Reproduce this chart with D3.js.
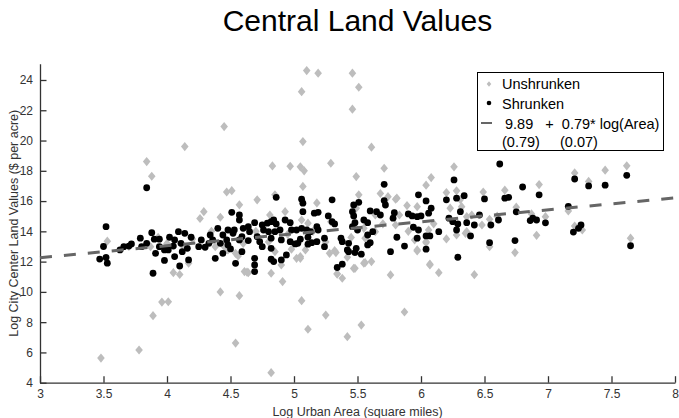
<!DOCTYPE html>
<html>
<head>
<meta charset="utf-8">
<script src="https://cdn.jsdelivr.net/npm/d3@7"></script>
<style>
  html, body { margin: 0; padding: 0; background: #fff; }
  svg { display: block; font-family: "Liberation Sans", Arial, Helvetica, sans-serif; }
</style>
</head>
<body>
<svg id="chart" width="679" height="418"></svg>
<script>
// Log urban area (x) vs log city-center land value (y), per city.
const unshrunken = [
  [3.48,5.63],[3.78,6.16],[3.89,8.43],[3.96,9.33],[4.01,9.35],[4.05,11.27],[4.10,11.15],[4.17,11.9],
  [4.42,10.0],[4.54,6.62],[4.57,9.75],[5.06,9.42],[4.82,4.66],[5.11,7.53],[5.25,8.47],[5.42,7.04],
  [5.53,7.81],[5.87,8.67],[5.76,11.12],[6.07,11.83],[6.14,11.27],[4.91,10.68],[4.82,11.23],[4.63,11.3],
  [4.61,11.34],[5.05,12.22],[5.38,10.9],[5.34,11.2],[5.47,11.55],[5.55,11.9],[5.61,12.0],[5.33,12.6],
  [5.97,12.7],[6.04,13.25],[6.42,11.14],[6.74,12.6],[6.91,13.74],[6.54,12.99],[7.65,13.55],
  [5.10,24.62],[5.19,24.45],[5.06,23.23],[5.46,24.45],[5.51,23.52],[5.46,22.07],[5.07,19.93],[5.61,19.56],
  [4.83,18.32],[4.97,18.3],[5.05,18.26],[5.08,18.0],[5.29,18.5],[5.71,18.17],[6.26,18.26],[5.49,17.62],
  [6.08,17.55],[6.04,17.05],[5.07,16.97],[4.51,16.69],[4.47,16.6],[4.85,16.41],[4.71,16.08],[5.51,16.41],
  [5.68,16.5],[5.74,16.29],[5.80,16.12],[5.18,15.88],[4.57,15.75],[6.20,16.56],[6.28,16.68],[3.84,18.61],
  [3.88,17.64],[4.14,19.6],[4.45,20.92],[4.29,15.3],[4.26,14.85],[4.42,14.93],[3.53,13.35],[7.21,17.86],
  [7.45,18.04],[7.62,18.33],[7.32,17.3],[6.93,17.09],[6.66,16.72],[6.49,16.6],[7.16,15.35],[6.75,15.6],
  [6.87,15.15],[6.98,14.97],[7.21,14.35],[7.27,14.09],[6.48,14.42],[6.36,13.98],
  [5.81,16.19],[5.89,15.7],[5.83,15.08],[5.95,13.43],[5.97,12.77],[6.04,13.32],[6.06,14.09],[6.07,11.78],
  [6.28,13.76],[6.35,13.87],[6.23,15.53],[6.32,15.63],[6.40,15.08],[6.54,14.8],[5.06,14.75],[5.11,14.54],
  [5.29,14.64],[5.49,15.53],[5.64,15.08],[5.80,14.42],[5.05,12.33],[5.32,12.72],[5.42,12.29],[5.48,11.56],
  [5.56,11.93],[5.34,11.18],[5.28,12.55],[5.56,13.55],[5.64,13.98],[5.09,12.77],[4.93,15.3],[4.81,15.08],
  [4.54,12.55],[4.56,12.37],[4.64,11.27],[4.85,12.66],[4.90,11.78],[4.48,12.77],[5.02,12.22],[4.38,12.99],
  [4.71,13.7],[4.98,12.82],[3.87,12.99],[5.97,15.63],[6.31,16.1],[6.36,14.97],
  [4.0,13.2],[4.2,13.5],[4.35,14.0],[4.6,13.2],[4.7,14.0],[4.8,13.3],[4.95,13.8],[5.15,14.0],
  [5.25,13.3],[5.45,13.6],[5.55,14.2],[5.7,14.5],[5.9,14.0],[6.1,14.5],[6.2,13.5],[6.6,15.0],
  [3.7,13.0],[3.93,13.6],[4.12,13.1],[4.45,13.0]
];

const shrunken = [
  [3.52,14.31],[3.84,16.88],[3.50,13.0],[3.47,12.17],[3.52,12.28],[3.53,11.9],
  [3.63,12.77],[3.66,12.99],[3.70,13.03],[3.72,13.17],[3.79,13.55],[3.80,12.99],[3.84,13.21],[3.88,13.91],
  [3.90,13.48],[3.91,12.55],[3.89,11.23],[3.94,13.48],[3.98,12.77],[4.02,13.61],[4.01,12.77],[4.06,12.33],
  [4.09,13.98],[4.11,13.21],[4.14,13.87],[4.12,12.66],[4.16,12.88],[4.19,13.61],[4.10,11.71],[4.17,12.11],
  [3.98,12.08],[4.05,13.03],[4.06,13.43],[3.94,12.99],
  [4.51,15.26],[4.57,15.08],[4.57,14.75],[4.86,16.25],
  [4.40,14.2],[4.48,14.09],[4.53,14.09],[4.60,14.2],[4.64,14.31],[4.69,14.57],[4.75,14.42],[4.79,14.54],
  [4.82,14.64],[4.84,14.75],[4.86,14.49],[4.93,14.75],[4.97,14.57],
  [4.27,13.43],[4.34,13.76],[4.36,13.43],[4.44,13.76],[4.47,13.43],[4.52,13.87],[4.59,13.65],[4.65,13.98],
  [4.71,13.65],[4.76,14.09],[4.80,13.98],[4.85,13.98],[4.89,14.09],[4.98,14.09],[5.02,14.09],
  [4.25,12.99],[4.30,12.95],[4.33,13.21],[4.42,13.21],[4.48,13.10],[4.50,12.84],[4.57,13.43],[4.64,13.39],
  [4.73,13.32],[4.82,13.55],[4.90,13.43],[4.97,13.32],[5.01,13.17],
  [4.38,12.22],[4.44,12.55],[4.54,11.89],[4.82,12.88],[4.82,12.16],[4.84,12.0],[4.90,12.11],[4.69,12.22],
  [4.69,11.78],[4.69,11.34],[4.94,12.44],[4.59,12.66],[4.75,12.99],
  [5.06,16.12],[5.07,15.86],[5.07,15.30],[5.30,16.08],[5.47,15.74],[5.51,15.92],[5.71,16.03],[5.72,15.74],
  [5.71,17.11],[5.16,15.2],[5.19,15.26],[5.27,15.02],[5.30,14.64],[5.32,14.49],[5.60,15.35],[5.65,15.3],
  [5.68,15.08],[5.79,15.23],[5.78,14.87],[5.46,15.3],[5.47,15.02],[5.48,14.57],[5.55,14.75],[5.58,14.57],
  [5.46,14.31],[5.50,14.09],
  [5.06,14.2],[5.10,14.09],[5.13,13.98],[5.18,14.31],[5.19,14.09],[5.24,13.55],[5.05,13.48],[5.11,13.61],
  [5.14,13.25],[5.18,13.32],[5.03,13.21],[5.11,13.15],[5.24,12.99],
  [5.37,13.55],[5.38,13.32],[5.43,13.21],[5.42,12.77],[5.43,12.66],[5.49,12.88],[5.48,12.6],[5.53,12.49],
  [5.58,13.1],[5.60,13.25],[5.58,13.76],[5.62,13.98],[5.38,11.83],[5.34,11.61],[5.76,12.66],[5.81,13.61],
  [6.26,17.4],[5.98,16.41],[6.04,16.01],[6.20,16.08],[6.28,16.19],[6.34,16.36],[6.50,16.14],[6.31,15.3],
  [5.90,15.15],[5.93,15.02],[5.97,14.97],[6.00,15.02],[6.06,15.2],[6.08,15.53],
  [5.94,14.27],[5.98,14.09],[6.04,13.7],[6.07,13.7],[5.97,13.55],[5.87,13.03],[6.04,12.82],[6.14,13.98],
  [6.22,14.87],[6.25,14.64],[6.29,14.49],[6.28,14.09],[6.36,14.57],[6.42,14.42],[6.46,15.08],[6.55,14.42],
  [6.39,13.7],[6.54,13.25],[6.29,12.29],[6.61,14.75],
  [6.62,18.45],[7.21,17.46],[7.45,17.05],[7.62,17.7],[7.32,17.0],[6.93,16.41],[6.80,16.93],[6.66,16.19],
  [6.69,16.25],[7.16,15.65],[6.75,15.29],[6.86,14.71],[6.88,14.87],[6.91,14.75],[6.98,14.56],[7.20,13.95],
  [7.26,14.42],[7.24,14.2],[6.74,13.39],[7.65,13.05]
];

// Fitted line: value = intercept + slope * log(Area), standard errors in parentheses
const fitIntercept = 9.89, fitSlope = 0.79;
const fitInterceptSE = 0.79, fitSlopeSE = 0.07;
const xTicks = [3, 3.5, 4, 4.5, 5, 5.5, 6, 6.5, 7, 7.5, 8];
const yTicks = [4, 6, 8, 10, 12, 14, 16, 18, 20, 22, 24];
const legendLabels = ["Unshrunken", "Shrunken"];

const svg = d3.select("#chart");
const axisColor = "#333333";

const x = d3.scaleLinear().domain([3, 8]).range([40, 675]);
const y = d3.scaleLinear().domain([4, 25.07]).range([382.7, 63.8]);

// Title
svg.append("text")
  .attr("x", 357.5).attr("y", 31)
  .attr("text-anchor", "middle")
  .attr("font-size", 30)
  .attr("fill", "#000")
  .text("Central Land Values");

// Axes (ticks point inward)
const xAxis = d3.axisBottom(x).tickValues(xTicks).tickSizeInner(-6.5).tickSizeOuter(0)
  .tickFormat(d3.format("~g")).tickPadding(7);
const yAxis = d3.axisLeft(y).tickValues(yTicks).tickSizeInner(-6.5).tickSizeOuter(0)
  .tickFormat(d3.format("~g")).tickPadding(7);

const gx = svg.append("g").attr("transform", `translate(0,${y(4)})`).call(xAxis);
const gy = svg.append("g").attr("transform", `translate(${x(3)},0)`).call(yAxis);
[gx, gy].forEach(g => {
  g.select(".domain").attr("stroke", axisColor).attr("stroke-width", 1.3);
  g.selectAll(".tick line").attr("stroke", axisColor).attr("stroke-width", 1.3);
  g.selectAll(".tick text").attr("fill", axisColor).attr("font-size", 12)
    .attr("font-family", "'Liberation Sans', Arial, sans-serif");
});

// Axis labels
svg.append("text")
  .attr("x", 357.5).attr("y", 416)
  .attr("text-anchor", "middle")
  .attr("font-size", 12.5).attr("fill", axisColor)
  .text("Log Urban Area (square miles)");
svg.append("text")
  .attr("transform", `translate(18,${(y(4) + y(25.07)) / 2}) rotate(-90)`)
  .attr("text-anchor", "middle")
  .attr("font-size", 12.5).attr("fill", axisColor)
  .text("Log City Center Land Values ($ per acre)");

// Diamond marker path (taller than wide)
const diamond = (hw, hh) => `M0,${-hh}L${hw},0L0,${hh}L${-hw},0Z`;

svg.append("g").selectAll("path")
  .data(unshrunken).join("path")
  .attr("d", diamond(3.8, 4.6))
  .attr("transform", d => `translate(${x(d[0])},${y(d[1])})`)
  .attr("fill", "#bdbdbd");

svg.append("g").selectAll("circle")
  .data(shrunken).join("circle")
  .attr("cx", d => x(d[0])).attr("cy", d => y(d[1]))
  .attr("r", 3.4)
  .attr("fill", "#000");

// Regression line
svg.append("line")
  .attr("x1", x(3)).attr("y1", y(fitIntercept + fitSlope * 3))
  .attr("x2", x(8)).attr("y2", y(fitIntercept + fitSlope * 8))
  .attr("stroke", "#666").attr("stroke-width", 3)
  .attr("stroke-dasharray", "12,12");

// Legend
const lg = svg.append("g");
lg.append("rect")
  .attr("x", 477.5).attr("y", 72.5).attr("width", 186).attr("height", 78)
  .attr("fill", "#fff").attr("stroke", "#000").attr("stroke-width", 1);
lg.append("path").attr("d", diamond(2.3, 2.8))
  .attr("transform", "translate(489,84)").attr("fill", "#bdbdbd");
lg.append("circle").attr("cx", 489).attr("cy", 103).attr("r", 2.3).attr("fill", "#000");
lg.append("line").attr("x1", 481).attr("x2", 492).attr("y1", 123).attr("y2", 123)
  .attr("stroke", "#666").attr("stroke-width", 2);
const lt = [
  [502, 89, legendLabels[0]],
  [502, 108.5, legendLabels[1]],
  [505, 128.5, `${fitIntercept.toFixed(2)}\u00a0\u00a0\u00a0+\u00a0\u00a0${fitSlope.toFixed(2)}* log(Area)`],
  [502, 147, `(${fitInterceptSE.toFixed(2)})\u00a0\u00a0\u00a0\u00a0\u00a0(${fitSlopeSE.toFixed(2)})`]
];
lg.selectAll("text.leg").data(lt).join("text")
  .attr("class", "leg")
  .attr("x", d => d[0]).attr("y", d => d[1])
  .attr("font-size", 14.5).attr("fill", "#000")
  .text(d => d[2]);
</script>
</body>
</html>
